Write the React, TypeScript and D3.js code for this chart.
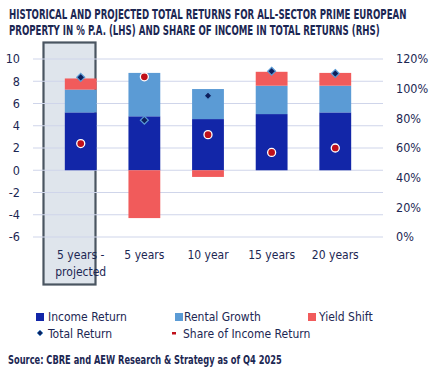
import React, { useRef, useEffect } from 'react';
import * as d3 from 'd3';

const categories: string[] = ['5 years -\nprojected', '5 years', '10 year', '15 years', '20 years'];
const incomeReturn: number[] = [5.2, 4.85, 4.6, 5.05, 5.2];
const rentalGrowth: number[] = [2.05, 3.9, 2.7, 2.55, 2.4];
const yieldShift: number[] = [1.0, -4.3, -0.6, 1.25, 1.15];
const totalReturn: number[] = [8.35, 4.5, 6.7, 8.9, 8.7];
const shareOfIncome: number[] = [63, 108, 69, 57, 60];
const leftTicks: number[] = [10, 8, 6, 4, 2, 0, -2, -4, -6];
const rightTicks: number[] = [0, 20, 40, 60, 80, 100, 120];

const NAVY = '#1c2753';
const FONT = '"DejaVu Sans Condensed", "Liberation Sans Narrow", Roboto, sans-serif';

const App: React.FC = () => {
  const svgRef = useRef<SVGSVGElement | null>(null);

  useEffect(() => {
    if (!svgRef.current) return;
    const width = 434;
    const height = 372;
    const margin = { top: 59, right: 51, bottom: 135, left: 33 };

    const svg = d3.select(svgRef.current)
      .attr('width', width)
      .attr('height', height)
      .style('font-family', FONT);
    svg.selectAll('*').remove();

    const x = d3.scaleBand()
      .domain(categories)
      .range([margin.left, width - margin.right])
      .padding(0.5);
    const y = d3.scaleLinear().domain([-6, 10]).range([237, 59]);
    const yR = d3.scaleLinear().domain([0, 120]).range([237, 59]);

    // squeeze a text horizontally so it spans the given width (condensed look)
    const fitText = (px: number, py: number, w: number, size: number, weight: string, str: string) => {
      const g = svg.append('g');
      const t = g.append('text').attr('x', 0).attr('y', 0)
        .attr('fill', NAVY).attr('font-size', size).attr('font-weight', weight).text(str);
      const len = (t.node() as SVGTextElement).getComputedTextLength() || w;
      g.attr('transform', `translate(${px},${py}) scale(${w / len},1)`);
    };

    // title
    fitText(9, 19, 398, 13.5, 'bold', 'HISTORICAL AND PROJECTED TOTAL RETURNS FOR ALL-SECTOR PRIME EUROPEAN');
    fitText(9, 35, 371, 13.5, 'bold', 'PROPERTY IN % P.A. (LHS) AND SHARE OF INCOME IN TOTAL RETURNS (RHS)');

    // highlight box for projected
    svg.append('rect')
      .attr('x', 43.5).attr('y', 42.5).attr('width', 52).attr('height', 242)
      .attr('fill', '#dfe5ec').attr('stroke', '#4a5561').attr('stroke-width', 2.2);

    // gridlines
    svg.append('g').selectAll('line').data(leftTicks).join('line')
      .attr('x1', margin.left).attr('x2', width - margin.right)
      .attr('y1', d => y(d)).attr('y2', d => y(d))
      .attr('stroke', '#cfd5ea').attr('stroke-width', 1);

    // left axis labels
    svg.append('g').selectAll('text').data(leftTicks).join('text')
      .attr('x', 20).attr('y', d => y(d)).attr('dy', '0.35em')
      .attr('text-anchor', 'end').attr('fill', NAVY).attr('font-size', 12.5)
      .text(d => String(d));

    // right axis labels
    svg.append('g').selectAll('text').data(rightTicks).join('text')
      .attr('x', 396).attr('y', d => yR(d)).attr('dy', '0.35em')
      .attr('fill', NAVY).attr('font-size', 12.5)
      .text(d => `${d}%`);

    const bw = x.bandwidth();
    const bars = svg.append('g');
    categories.forEach((c, i) => {
      const x0 = x(c) as number;
      const inc = incomeReturn[i];
      const rg = rentalGrowth[i];
      const ys = yieldShift[i];
      bars.append('rect').attr('x', x0).attr('width', bw)
        .attr('y', y(inc)).attr('height', y(0) - y(inc)).attr('fill', '#1226a8');
      bars.append('rect').attr('x', x0).attr('width', bw)
        .attr('y', y(inc + rg)).attr('height', y(inc) - y(inc + rg)).attr('fill', '#5b9bd5');
      if (ys >= 0) {
        bars.append('rect').attr('x', x0).attr('width', bw)
          .attr('y', y(inc + rg + ys)).attr('height', y(inc + rg) - y(inc + rg + ys)).attr('fill', '#f15b5b');
      } else {
        bars.append('rect').attr('x', x0).attr('width', bw)
          .attr('y', y(0)).attr('height', y(ys) - y(0)).attr('fill', '#f15b5b');
      }
    });

    // total return diamonds
    const diamond = d3.symbol(d3.symbolDiamond2, 40);
    svg.append('g').selectAll('path').data(totalReturn).join('path')
      .attr('d', diamond)
      .attr('transform', (d, i) => `translate(${(x(categories[i]) as number) + bw / 2},${y(d)})`)
      .attr('fill', '#0d1f5c').attr('stroke', '#5b9bd5').attr('stroke-width', 1.2);

    // share of income dots
    svg.append('g').selectAll('circle').data(shareOfIncome).join('circle')
      .attr('cx', (d, i) => (x(categories[i]) as number) + bw / 2)
      .attr('cy', d => yR(d))
      .attr('r', 4)
      .attr('fill', '#c0101a').attr('stroke', '#fff').attr('stroke-width', 1.3);

    // x labels
    const xl = svg.append('g').attr('fill', NAVY).attr('font-size', 12).attr('text-anchor', 'middle');
    categories.forEach(c => {
      const lines = c.split('\n');
      const t = xl.append('text').attr('x', (x(c) as number) + bw / 2).attr('y', 259);
      lines.forEach((l, k) => {
        t.append('tspan').attr('x', (x(c) as number) + bw / 2).attr('dy', k === 0 ? 0 : 17).text(l);
      });
    });

    // legend
    const lg = svg.append('g').attr('fill', NAVY).attr('font-size', 12);
    const rowA = 317;
    const rowB = 334;
    lg.append('rect').attr('x', 36).attr('y', rowA - 4).attr('width', 8).attr('height', 8).attr('fill', '#1226a8');
    lg.append('text').attr('x', 48).attr('y', rowA).attr('dy', '0.35em').text('Income Return');
    lg.append('rect').attr('x', 175).attr('y', rowA - 4).attr('width', 8).attr('height', 8).attr('fill', '#5b9bd5');
    lg.append('text').attr('x', 184).attr('y', rowA).attr('dy', '0.35em').text('Rental Growth');
    lg.append('rect').attr('x', 308).attr('y', rowA - 4).attr('width', 8).attr('height', 8).attr('fill', '#f15b5b');
    lg.append('text').attr('x', 319).attr('y', rowA).attr('dy', '0.35em').text('Yield Shift');
    lg.append('path').attr('d', d3.symbol(d3.symbolDiamond2, 22)).attr('transform', `translate(40,${rowB - 1})`)
      .attr('fill', '#0d1f5c').attr('stroke', '#5b9bd5').attr('stroke-width', 1);
    lg.append('text').attr('x', 48).attr('y', rowB).attr('dy', '0.35em').text('Total Return');
    lg.append('rect').attr('x', 172).attr('y', rowB - 2).attr('width', 4).attr('height', 2.5).attr('fill', '#c0101a');
    lg.append('text').attr('x', 183).attr('y', rowB).attr('dy', '0.35em').text('Share of Income Return');

    fitText(8, 364, 274, 12, '600', 'Source: CBRE and AEW Research & Strategy as of Q4 2025');
  }, []);

  return <svg ref={svgRef} style={{ position: 'absolute', left: 0, top: 0 }}></svg>;
};

export default App;
